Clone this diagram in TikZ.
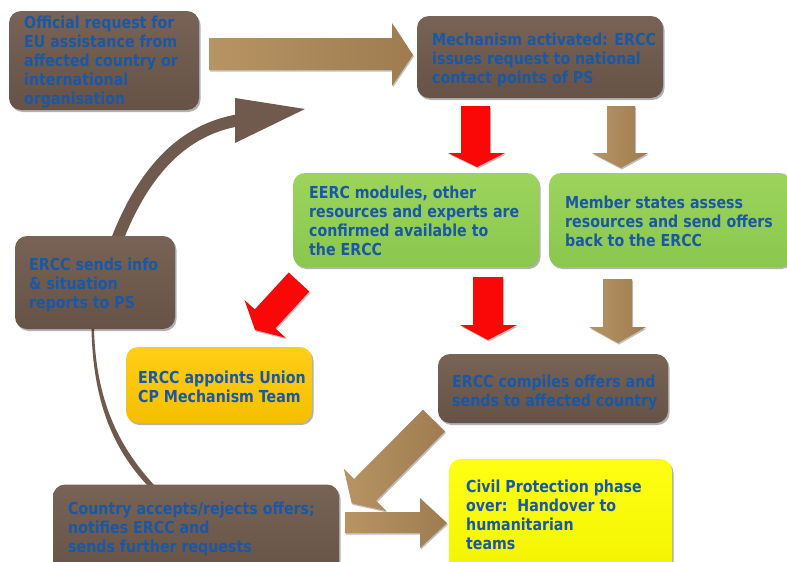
\documentclass[tikz,border=0pt]{standalone}
\usepackage{fontspec}
\newfontfamily\boxfont[FakeStretch=0.86]{DejaVu Sans}
\usetikzlibrary{shadows}
\definecolor{txtblue}{RGB}{25,88,165}
\definecolor{brownT}{RGB}{120,99,86}
\definecolor{brownB}{RGB}{102,82,70}
\definecolor{greenT}{RGB}{156,212,92}
\definecolor{greenB}{RGB}{138,199,78}
\definecolor{orangeT}{RGB}{255,206,24}
\definecolor{orangeB}{RGB}{246,190,0}
\definecolor{yellowT}{RGB}{255,255,20}
\definecolor{yellowB}{RGB}{242,242,0}
\definecolor{tanL}{RGB}{184,148,100}
\definecolor{tanR}{RGB}{158,124,80}
\definecolor{arrred}{RGB}{250,8,8}
\definecolor{curvebrown}{RGB}{112,90,77}
\tikzset{
  box/.style={rectangle, rounded corners=12pt, draw=none, inner sep=0pt,
    drop shadow={shadow xshift=1.5pt, shadow yshift=-2pt, opacity=0.3, fill=black}},
  brownbox/.style={box, top color=brownT, bottom color=brownB},
  greenbox/.style={box, top color=greenT, bottom color=greenB},
  orangebox/.style={box, top color=orangeT, bottom color=orangeB},
  yellowbox/.style={box, top color=yellowT, bottom color=yellowB},
  txt/.style={anchor=base west, align=left, inner sep=0pt,
    font=\boxfont\bfseries\fontsize{16.5}{19}\selectfont, text=txtblue},
  tanarrow/.style={left color=tanL, right color=tanR,
    drop shadow={shadow xshift=1pt, shadow yshift=-1.5pt, opacity=0.25, fill=black}},
  redarrow/.style={fill=arrred,
    drop shadow={shadow xshift=1pt, shadow yshift=-1.5pt, opacity=0.25, fill=black}},
}
\begin{document}
\begin{tikzpicture}[x=1pt,y=-1pt]
\clip (0,0) rectangle (787,562);
\fill[white] (0,0) rectangle (787,562);

% ---- curved connectors (behind boxes)
\draw[curvebrown, line width=12pt] (117,240) .. controls (145,168) and (185,130) .. (237,120.5);
\fill[curvebrown] (235,98) -- (305,109) -- (235,143) -- cycle;
\fill[curvebrown] (91.5,329) .. controls (93,400) and (112,448) .. (148,486)
  -- (155,486) .. controls (118,446) and (96,400) .. (94,329) -- cycle;

% ---- block arrows
\path[tanarrow] (209,38) -- (392,38) -- (392,23) -- (413,55) -- (392,86) -- (392,70) -- (209,70) -- cycle;
\path[redarrow] (461,106) -- (490,106) -- (490,153) -- (505,153) -- (477,167) -- (448,153) -- (461,153) -- cycle;
\path[tanarrow] (607,106) -- (635,106) -- (635,153) -- (648,153) -- (621,168) -- (592,153) -- (607,153) -- cycle;
\path[redarrow] (473,277) -- (503,277) -- (503,325) -- (517,325) -- (488,340) -- (460,325) -- (473,325) -- cycle;
\path[tanarrow] (603,279) -- (632,279) -- (632,327) -- (646,327) -- (618,343) -- (589,327) -- (603,327) -- cycle;
\path[redarrow] (288.7,272.5) -- (309.3,291.5) -- (275.4,328.4) -- (285.7,337.8) -- (255,330) -- (244.5,300) -- (254.8,309.4) -- cycle;
\path[tanarrow] (423,409.6) -- (445,431.4) -- (376.1,500.7) -- (386.4,511) -- (351.7,503.3) -- (343.8,468.7) -- (354.1,478.9) -- cycle;
\path[tanarrow] (345,512) -- (420,512) -- (420,498) -- (447,523) -- (420,548) -- (420,533) -- (345,533) -- cycle;

% ---- boxes
\node[brownbox, minimum width=190pt, minimum height=99pt] (b1) at (104,60.5) {};
\node[brownbox, minimum width=246pt, minimum height=82pt] (b2) at (540,57) {};
\node[greenbox, minimum width=246pt, minimum height=94pt] (b3) at (416,220) {};
\node[greenbox, minimum width=243pt, minimum height=94pt] (b4) at (670.5,220) {};
\node[brownbox, minimum width=160pt, minimum height=93pt] (b5) at (95,282.5) {};
\node[orangebox, minimum width=186pt, minimum height=76pt] (b6) at (219,385) {};
\node[brownbox, minimum width=230pt, minimum height=69pt] (b7) at (553,388.5) {};
\node[brownbox, minimum width=286pt, minimum height=95pt] (b8) at (196,532) {};
\node[yellowbox, minimum width=223pt, minimum height=120pt] (b9) at (560.5,519) {};

% ---- texts (anchored at the baseline of the last line)
\node[txt] (t1) at (24,104) {Official request for\\EU assistance from\\affected country or\\international\\organisation};
\node[txt] (t2) at (432,83) {Mechanism activated: ERCC\\issues request to national\\contact points of PS};
\node[txt] (t3) at (309,255) {EERC modules, other\\resources and experts are\\confirmed available to\\the ERCC};
\node[txt] (t4) at (565,246) {Member states assess\\resources and send offers\\back to the ERCC};
\node[txt] (t5) at (29,308) {ERCC sends info\\\& situation\\reports to PS};
\node[txt] (t6) at (138,402) {ERCC appoints Union\\CP Mechanism Team};
\node[txt] (t7) at (452,406) {ERCC compiles offers and\\sends to affected country};
\node[txt] (t8) at (68,552) {Country accepts/rejects offers;\\notifies ERCC and\\sends further requests};
\node[txt] (t9) at (466,549) {Civil Protection phase\\over:\ \ Handover to\\humanitarian\\teams};
\end{tikzpicture}
\end{document}
